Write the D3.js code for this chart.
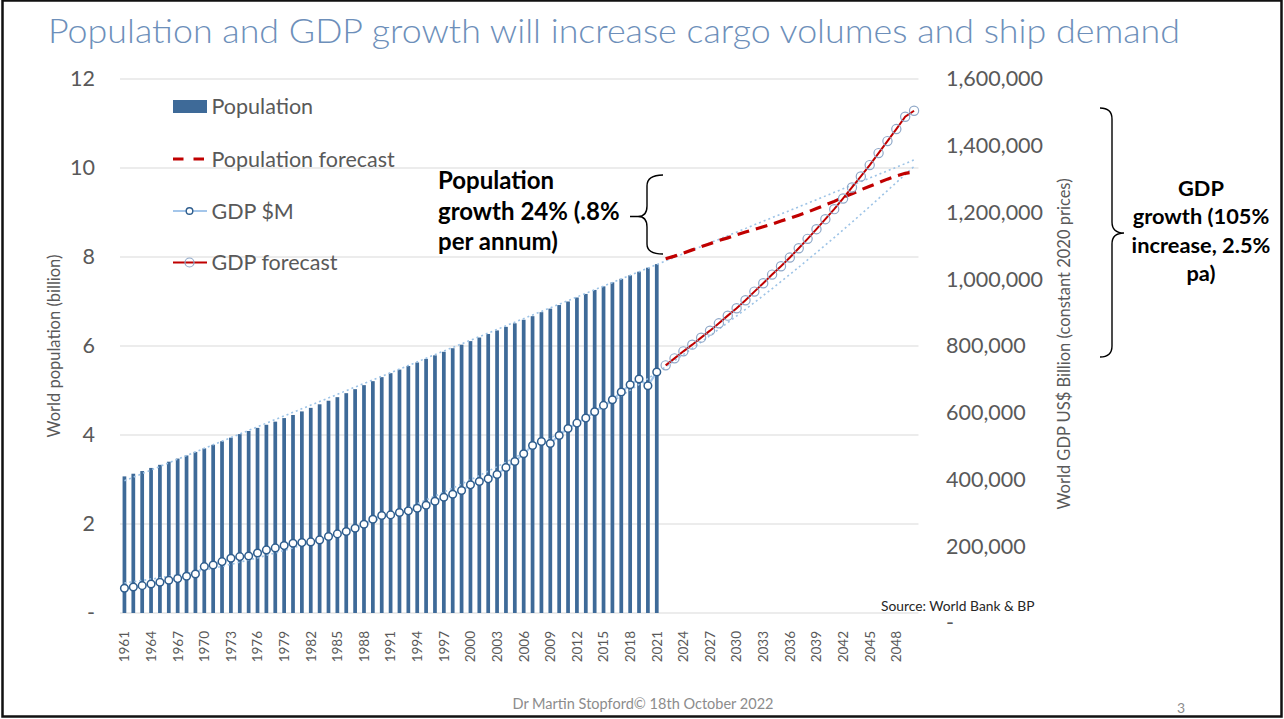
<!DOCTYPE html>
<html>
<head>
<meta charset="utf-8">
<script src="https://cdn.jsdelivr.net/npm/d3@7"></script>
<style>
  html, body { margin: 0; padding: 0; background: #fff; }
  svg { display: block; font-family: Lato, "Open Sans", "DejaVu Sans", sans-serif; }
</style>
</head>
<body>
<svg id="chart" width="1284" height="719"></svg>
<script>
// ---- Data ---------------------------------------------------------------
const firstYear = 1961;
const lastActualYear = 2021;
const lastYear = 2050;

// World population, billions (1961–2021)
const population = [
  3.07, 3.13, 3.19, 3.26, 3.33, 3.40, 3.47, 3.54, 3.62, 3.70,
  3.78, 3.86, 3.94, 4.02, 4.09, 4.16, 4.23, 4.30, 4.38, 4.45,
  4.53, 4.61, 4.69, 4.77, 4.85, 4.94, 5.03, 5.12, 5.21, 5.30,
  5.39, 5.47, 5.55, 5.63, 5.71, 5.79, 5.87, 5.95, 6.03, 6.11,
  6.19, 6.27, 6.35, 6.43, 6.51, 6.59, 6.67, 6.76, 6.84, 6.92,
  7.00, 7.09, 7.17, 7.26, 7.34, 7.43, 7.51, 7.59, 7.67, 7.76, 7.84
];

// Population forecast, billions (2022–2050)
const populationForecast = [
  7.96, 8.02, 8.09, 8.16, 8.23, 8.30, 8.37, 8.43, 8.50, 8.56,
  8.62, 8.68, 8.74, 8.81, 8.87, 8.94, 9.01, 9.09, 9.17, 9.25,
  9.34, 9.42, 9.51, 9.59, 9.67, 9.75, 9.82, 9.88, 9.91
];

// World GDP (1961–2021)
const gdp = [
  74000, 78000, 82000, 87000, 92000, 98000, 103000, 110000, 117000, 139000,
  144000, 154000, 164000, 169000, 171000, 180000, 189000, 195000, 202000, 209000,
  211000, 213000, 219000, 229000, 237000, 244000, 254000, 266000, 281000, 292000,
  294000, 301000, 306000, 314000, 323000, 335000, 347000, 356000, 367000, 384000,
  394000, 402000, 415000, 436000, 454000, 477000, 502000, 514000, 508000, 532000,
  553000, 569000, 584000, 603000, 622000, 639000, 662000, 684000, 701000, 681000, 722000
];

// World GDP forecast (2022–2050)
const gdpForecast = [
  742000, 763000, 784000, 804000, 825000, 846000, 868000, 891000, 913000, 937000,
  963000, 988000, 1014000, 1039000, 1065000, 1093000, 1121000, 1150000, 1180000, 1210000,
  1242000, 1275000, 1308000, 1342000, 1378000, 1414000, 1450000, 1487000, 1505000
];

// Trend lines
const popTrendYears = [1961, 2050];
const popTrend = [2.97, 10.18];
const gdpTrendYears = [1961, 1971, 1981, 1991, 2001, 2011, 2021, 2031, 2041, 2050];
const gdpTrend = [90000, 134000, 203000, 295000, 412000, 554000, 720000, 910000, 1125000, 1338000];

// Axis ticks
const leftTicks = [0, 2, 4, 6, 8, 10, 12];
const rightTicks = [0, 200000, 400000, 600000, 800000, 1000000, 1200000, 1400000, 1600000];
const years = d3.range(firstYear, lastYear + 1);
const xTickYears = d3.range(firstYear, lastYear, 3);

const actualYears = d3.range(firstYear, lastActualYear + 1);
const forecastYears = d3.range(lastActualYear + 1, lastYear + 1);

// ---- Layout -------------------------------------------------------------
const svg = d3.select("#chart");
const plot = { left: 120, right: 918.5, top: 79, bottom: 613 };

const x = d3.scaleBand().domain(years).range([plot.left, plot.right]).padding(0);
const cx = yr => x(yr) + x.bandwidth() / 2;
const yL = d3.scaleLinear().domain([0, 12]).range([plot.bottom, plot.top]);
const yR = d3.scaleLinear().domain([0, 1600000]).range([plot.bottom, plot.top]);

const GREY_TEXT = "#595959";
const BAR = "#3E6A98";
const RED = "#C00000";
const LIGHT_BLUE = "#A4C6EA";
const DOT_BLUE = "#9DC3E6";

// Slide frame
svg.append("rect")
  .attr("x", 2.5).attr("y", 0.5).attr("width", 1279).attr("height", 716)
  .attr("fill", "#fff").attr("stroke", "#111").attr("stroke-width", 2.5);

// Title
svg.append("text")
  .attr("x", 48).attr("y", 43)
  .attr("font-size", 34).attr("font-weight", 300)
  .attr("fill", "#6D8FBA")
  .attr("textLength", 1132).attr("lengthAdjust", "spacingAndGlyphs")
  .text("Population and GDP growth will increase cargo volumes and ship demand");

// Gridlines
svg.append("g").selectAll("line").data(leftTicks).join("line")
  .attr("x1", plot.left).attr("x2", plot.right)
  .attr("y1", d => yL(d)).attr("y2", d => yL(d))
  .attr("stroke", "#D9D9D9").attr("stroke-width", 1);

// Left axis
const gLeft = svg.append("g")
  .attr("transform", `translate(${plot.left},0)`)
  .call(d3.axisLeft(yL).tickValues(leftTicks).tickSize(0).tickPadding(25)
    .tickFormat(d => d === 0 ? "-" : d));
gLeft.select(".domain").remove();
gLeft.selectAll("text").attr("font-family", "Lato, sans-serif")
  .attr("font-size", 21.5).attr("fill", GREY_TEXT);

// Right axis
const gRight = svg.append("g")
  .attr("transform", `translate(${plot.right},0)`)
  .call(d3.axisRight(yR).tickValues(rightTicks).tickSize(0).tickPadding(27.5)
    .tickFormat(d => d === 0 ? "-" : d3.format(",")(d)));
gRight.select(".domain").remove();
gRight.selectAll("text").attr("font-family", "Lato, sans-serif")
  .attr("font-size", 21.5).attr("fill", GREY_TEXT);
gRight.selectAll(".tick").filter(d => d === 0).select("text").attr("dy", "0.75em");

// X axis
const gX = svg.append("g")
  .attr("transform", `translate(0,${plot.bottom})`)
  .call(d3.axisBottom(x).tickValues(xTickYears).tickSize(0));
gX.select(".domain").remove();
gX.selectAll("text")
  .attr("font-family", "Lato, sans-serif")
  .attr("font-size", 13.5).attr("fill", GREY_TEXT)
  .attr("transform", "rotate(-90)")
  .attr("text-anchor", "end")
  .attr("x", -18).attr("y", 0).attr("dy", "0.36em");

// Axis titles
svg.append("text")
  .attr("transform", `translate(54,346) rotate(-90)`)
  .attr("text-anchor", "middle").attr("dy", "0.35em")
  .attr("font-size", 16.5).attr("fill", GREY_TEXT)
  .text("World population (billion)");
svg.append("text")
  .attr("transform", `translate(1064,344) rotate(-90)`)
  .attr("text-anchor", "middle").attr("dy", "0.35em")
  .attr("font-size", 16.5).attr("fill", GREY_TEXT)
  .text("World GDP US$ Billion (constant 2020 prices)");

// Population bars
const barW = x.bandwidth() * 0.42;
svg.append("g").selectAll("rect").data(population).join("rect")
  .attr("x", (d, i) => cx(actualYears[i]) - barW / 2)
  .attr("width", barW)
  .attr("y", d => yL(d))
  .attr("height", d => yL(0) - yL(d))
  .attr("fill", BAR);

// Trend lines (dotted)
svg.append("path")
  .datum(popTrend.map((v, i) => [popTrendYears[i], v]))
  .attr("fill", "none").attr("stroke", DOT_BLUE).attr("stroke-width", 1.6)
  .attr("stroke-dasharray", "2,3")
  .attr("d", d3.line().x(d => cx(d[0])).y(d => yL(d[1])));
svg.append("path")
  .datum(gdpTrend.map((v, i) => [gdpTrendYears[i], v]))
  .attr("fill", "none").attr("stroke", DOT_BLUE).attr("stroke-width", 1.6)
  .attr("stroke-dasharray", "2,3")
  .attr("d", d3.line().curve(d3.curveMonotoneX).x(d => cx(d[0])).y(d => yR(d[1])));

// GDP actual line + markers
svg.append("path")
  .datum(gdp.map((v, i) => [actualYears[i], v]))
  .attr("fill", "none").attr("stroke", LIGHT_BLUE).attr("stroke-width", 2.2)
  .attr("d", d3.line().x(d => cx(d[0])).y(d => yR(d[1])));
svg.append("g").selectAll("circle").data(gdp).join("circle")
  .attr("cx", (d, i) => cx(actualYears[i]))
  .attr("cy", d => yR(d))
  .attr("r", 3.8)
  .attr("fill", "#fff").attr("stroke", "#2F5E8E").attr("stroke-width", 1.5);

// Population forecast (dashed)
svg.append("path")
  .datum(populationForecast.map((v, i) => [forecastYears[i], v]))
  .attr("fill", "none").attr("stroke", RED).attr("stroke-width", 3.2)
  .attr("stroke-dasharray", "12,7")
  .attr("d", d3.line().x(d => cx(d[0])).y(d => yL(d[1])));

// GDP forecast line + hollow markers
svg.append("path")
  .datum(gdpForecast.map((v, i) => [forecastYears[i], v]))
  .attr("fill", "none").attr("stroke", RED).attr("stroke-width", 2)
  .attr("d", d3.line().x(d => cx(d[0])).y(d => yR(d[1])));
svg.append("g").selectAll("circle").data(gdpForecast).join("circle")
  .attr("cx", (d, i) => cx(forecastYears[i]))
  .attr("cy", d => yR(d))
  .attr("r", 4.6)
  .attr("fill", "none").attr("stroke", "#8FA8C8").attr("stroke-width", 1.2);

// Legend
const legend = svg.append("g").attr("font-size", 21.5).attr("fill", GREY_TEXT);
const lx0 = 173, lx1 = 207, ltx = 211.5;
legend.append("rect").attr("x", lx0).attr("y", 100).attr("width", 34).attr("height", 13).attr("fill", BAR);
legend.append("text").attr("x", ltx).attr("y", 106).attr("dy", "0.35em").text("Population");

legend.append("line").attr("x1", lx0).attr("x2", 205).attr("y1", 159).attr("y2", 159)
  .attr("stroke", RED).attr("stroke-width", 3).attr("stroke-dasharray", "10.5,10");
legend.append("text").attr("x", ltx).attr("y", 159).attr("dy", "0.35em").text("Population forecast");

legend.append("line").attr("x1", lx0).attr("x2", lx1).attr("y1", 211).attr("y2", 211)
  .attr("stroke", LIGHT_BLUE).attr("stroke-width", 2.2);
legend.append("circle").attr("cx", 189.5).attr("cy", 211).attr("r", 3.3)
  .attr("fill", "#fff").attr("stroke", "#2F5E8E").attr("stroke-width", 1.4);
legend.append("text").attr("x", ltx).attr("y", 211).attr("dy", "0.35em").text("GDP $M");

legend.append("line").attr("x1", lx0).attr("x2", lx1).attr("y1", 262.5).attr("y2", 262.5)
  .attr("stroke", RED).attr("stroke-width", 2);
legend.append("circle").attr("cx", 189.5).attr("cy", 262.5).attr("r", 4.5)
  .attr("fill", "none").attr("stroke", "#8FA8C8").attr("stroke-width", 1.2);
legend.append("text").attr("x", ltx).attr("y", 262.5).attr("dy", "0.35em").text("GDP forecast");

// Population growth annotation
const popNote = ["Population", "growth 24% (.8%", "per annum)"];
svg.append("g").selectAll("text").data(popNote).join("text")
  .attr("x", 438).attr("y", (d, i) => 189 + i * 30.5)
  .attr("font-size", 24).attr("font-weight", 700).attr("fill", "#000")
  .text(d => d);
svg.append("path")
  .attr("d", "M663,175 Q647,175 647,186 L647,206 Q647,216.5 638,216.5 Q647,216.5 647,227 L647,244 Q647,254 663,254 M630,216.5 L638,216.5")
  .attr("fill", "none").attr("stroke", "#000").attr("stroke-width", 1.4);

// GDP growth annotation
const gdpNote = ["GDP", "growth (105%", "increase, 2.5%", "pa)"];
svg.append("g").selectAll("text").data(gdpNote).join("text")
  .attr("x", 1201).attr("y", (d, i) => 196 + i * 28.3)
  .attr("text-anchor", "middle")
  .attr("font-size", 21.8).attr("font-weight", 700).attr("fill", "#000")
  .text(d => d);
svg.append("path")
  .attr("d", "M1100,108 Q1112,108 1112,119 L1112,222 Q1112,233 1124,233 Q1112,233 1112,244 L1112,346 Q1112,357 1100,357")
  .attr("fill", "none").attr("stroke", "#000").attr("stroke-width", 1.4);

// Source
svg.append("text")
  .attr("x", 881).attr("y", 611)
  .attr("font-size", 13.8).attr("fill", "#262626")
  .text("Source: World Bank & BP");

// Footer
svg.append("text")
  .attr("x", 643).attr("y", 709).attr("text-anchor", "middle")
  .attr("font-size", 14.5).attr("fill", "#8C8C8C")
  .attr("textLength", 261).attr("lengthAdjust", "spacingAndGlyphs")
  .text("Dr Martin Stopford© 18th October 2022");
svg.append("text")
  .attr("x", 1181).attr("y", 713).attr("text-anchor", "middle")
  .attr("font-size", 14).attr("fill", "#8C8C8C")
  .text("3");
</script>
</body>
</html>
